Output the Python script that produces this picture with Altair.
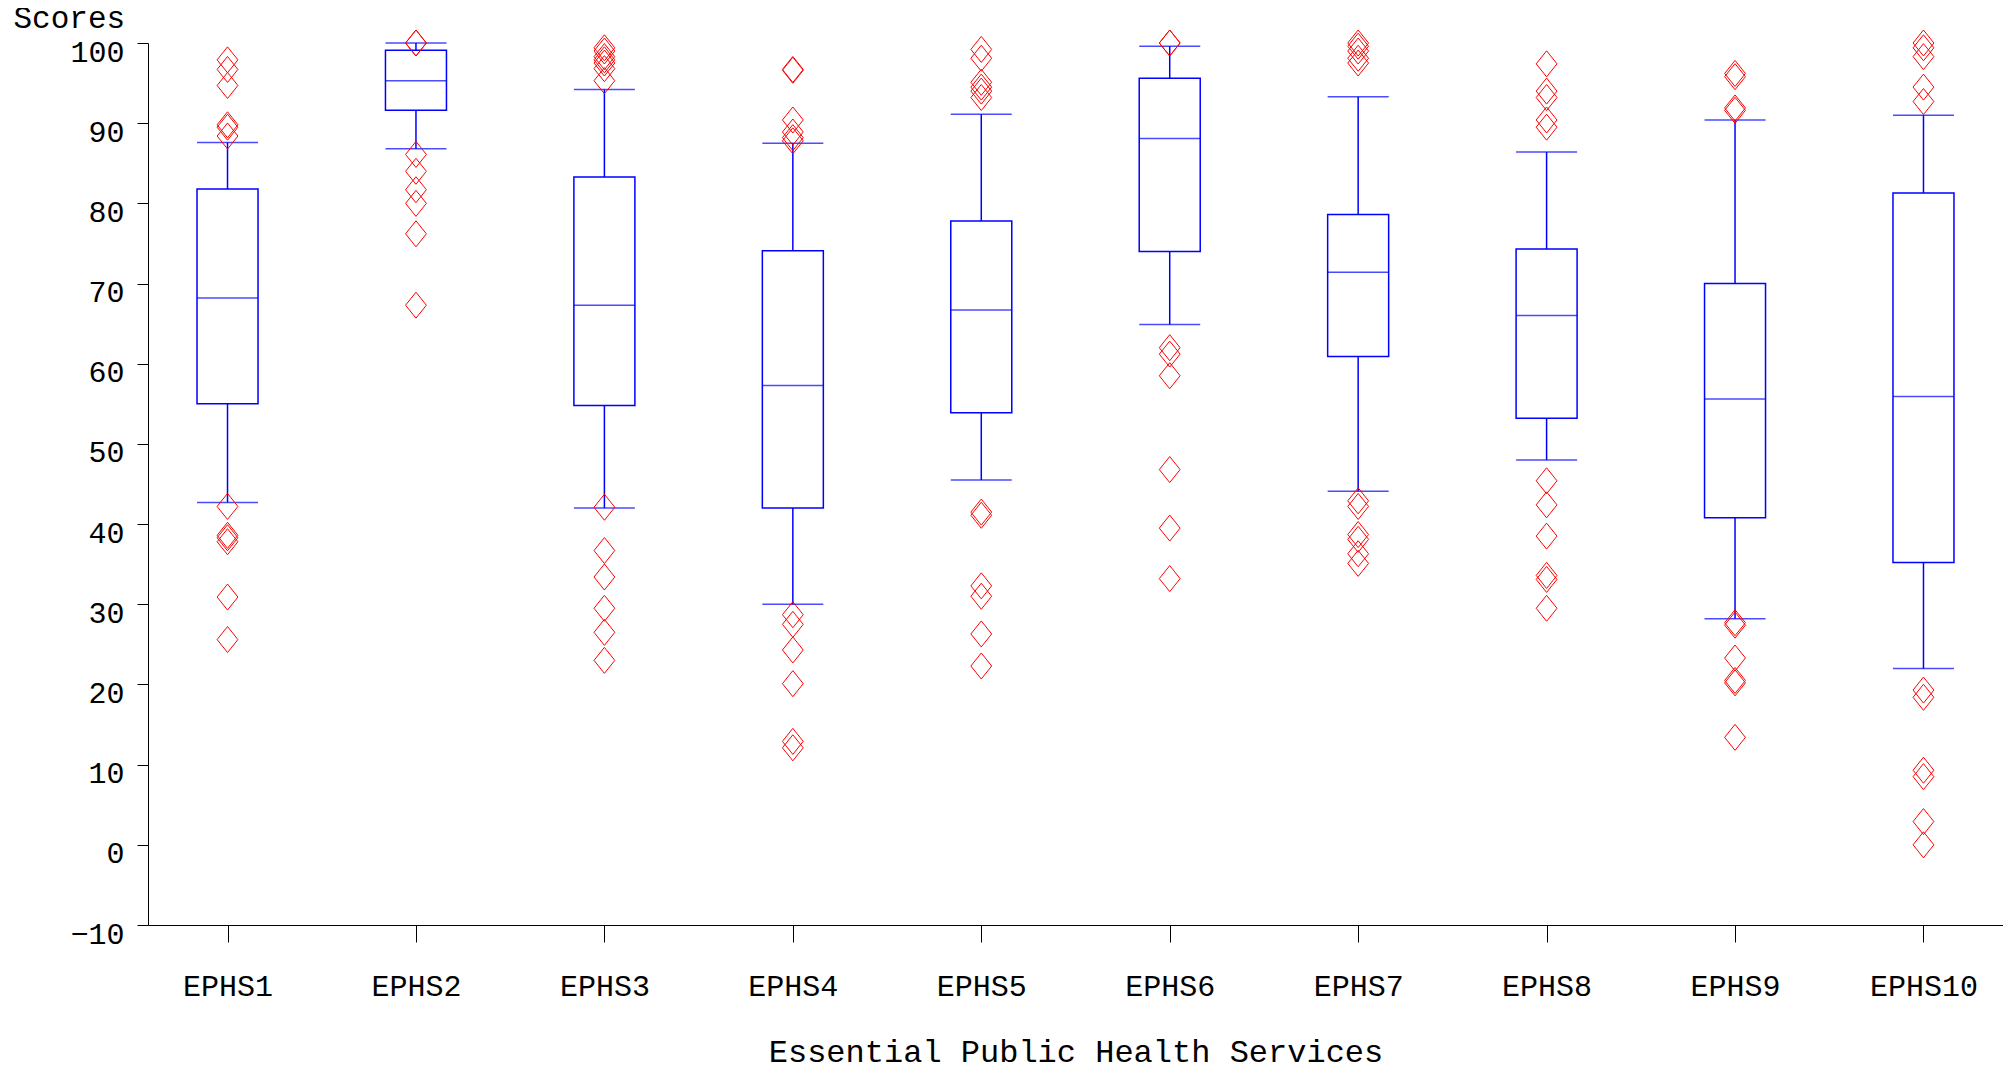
import altair as alt
import pandas as pd

categories = ["EPHS1", "EPHS2", "EPHS3", "EPHS4", "EPHS5",
              "EPHS6", "EPHS7", "EPHS8", "EPHS9", "EPHS10"]
lower_whisker = [42.7, 86.8, 42.0, 30.0, 45.5, 64.9, 44.1, 48.0, 28.2, 22.0]
q1 = [55.0, 91.6, 54.8, 42.0, 53.9, 74.0, 60.9, 53.2, 40.8, 35.2]
median = [68.2, 95.3, 67.3, 57.3, 66.7, 88.1, 71.4, 66.0, 55.6, 55.9]
q3 = [81.8, 99.1, 83.3, 74.1, 77.8, 95.6, 78.6, 74.3, 70.0, 81.3]
upper_whisker = [87.6, 100.0, 94.2, 87.5, 91.1, 99.6, 93.3, 86.4, 90.4, 91.0]

out_ephs1 = [97.9, 96.7, 94.7, 89.8, 89.5, 88.4, 42.2, 38.6, 38.3, 37.8, 30.9, 25.6]
out_ephs2 = [100.0, 100.0, 86.1, 84.0, 81.7, 80.0, 76.2, 67.3]
out_ephs3 = [99.4, 99.0, 98.3, 97.9, 97.5, 96.8, 95.3, 42.1, 36.7, 33.4, 29.5, 26.5, 23.0]
out_ephs4 = [96.7, 96.6, 90.4, 88.9, 88.2, 87.8, 28.7, 27.5, 24.3, 20.1, 12.9, 12.1]
out_ephs5 = [99.2, 98.1, 95.1, 94.5, 94.0, 93.2, 41.5, 41.1, 32.3, 31.0, 26.3, 22.3]
out_ephs6 = [100.0, 100.0, 62.0, 61.2, 58.5, 46.8, 39.5, 33.2]
out_ephs7 = [100.0, 99.6, 99.0, 98.1, 97.5, 42.9, 42.2, 38.7, 38.1, 36.3, 35.1]
out_ephs8 = [97.4, 94.0, 93.2, 90.4, 89.5, 45.4, 42.4, 38.5, 33.6, 33.1, 29.5]
out_ephs9 = [96.2, 95.8, 91.9, 91.6, 27.7, 27.4, 23.3, 20.5, 20.2, 13.4]
out_ephs10 = [100.0, 99.4, 98.3, 94.5, 92.7, 19.3, 18.4, 9.3, 8.5, 2.9, 0.0]

y_ticks = [-10, 0, 10, 20, 30, 40, 50, 60, 70, 80, 90, 100]

outlier_lists = [out_ephs1, out_ephs2, out_ephs3, out_ephs4, out_ephs5,
                 out_ephs6, out_ephs7, out_ephs8, out_ephs9, out_ephs10]

stats = pd.DataFrame({
    "cat": categories, "lw": lower_whisker, "q1": q1,
    "med": median, "q3": q3, "uw": upper_whisker,
})
out_df = pd.DataFrame(
    [{"cat": c, "v": v} for c, vals in zip(categories, outlier_lists) for v in vals]
)

FONT = "Liberation Mono"
BLUE = "#0000FF"
RED = "#FF0000"
BOXW = 61
W = 1855
H = 882

x_enc = alt.X(
    "cat:N",
    sort=categories,
    scale=alt.Scale(type="point", domain=categories, padding=0.422),
    title="Essential Public Health Services",
    axis=alt.Axis(
        labelFont=FONT, labelFontSize=30, labelColor="black",
        labelAngle=0, labelBaseline="alphabetic", labelPadding=53,
        tickSize=17, tickColor="black", tickWidth=1,
        domainColor="black", domainWidth=1,
        titleFont=FONT, titleFontSize=32, titleFontWeight="normal",
        titleColor="black", titleBaseline="alphabetic",
        titleX=W / 2, titleY=136, titleAlign="center",
        grid=False,
    ),
)

y_scale = alt.Scale(domain=[-10, 100], nice=False, zero=False)
y_axis = alt.Axis(
    values=y_ticks,
    labelFont=FONT, labelFontSize=30, labelColor="black",
    labelBaseline="alphabetic", labelOffset=18, labelPadding=13,
    tickSize=11, tickColor="black", tickWidth=1,
    domainColor="black", domainWidth=1,
    titleFont=FONT, titleFontSize=31, titleFontWeight="normal",
    titleColor="black", titleAngle=0, titleAlign="left",
    titleBaseline="alphabetic", titleX=-135, titleY=-15.5,
    grid=False,
)


def y(field):
    return alt.Y(f"{field}:Q", scale=y_scale, axis=y_axis, title="Scores")


base = alt.Chart(stats)

whisker = base.mark_rule(color=BLUE, strokeWidth=1.5).encode(
    x=x_enc, y=y("lw"), y2="uw:Q")
box = base.mark_bar(size=BOXW, fill="white", stroke=BLUE, strokeWidth=1.5).encode(
    x=x_enc, y=y("q1"), y2="q3:Q")
med = base.mark_tick(size=BOXW, thickness=1.5, color=BLUE).encode(
    x=x_enc, y=y("med"))
cap_lo = base.mark_tick(size=BOXW, thickness=1.5, color=BLUE).encode(
    x=x_enc, y=y("lw"))
cap_hi = base.mark_tick(size=BOXW, thickness=1.5, color=BLUE).encode(
    x=x_enc, y=y("uw"))
pts = alt.Chart(out_df).mark_point(
    shape="M0,-1L0.8,0L0,1L-0.8,0Z", size=676, filled=False,
    color=RED, strokeWidth=1, opacity=1,
).encode(x=x_enc, y=y("v"))

chart = alt.layer(whisker, box, med, cap_lo, cap_hi, pts).properties(
    width=W, height=H,
    autosize=alt.AutoSizeParams(type="none"),
    padding={"left": 140, "top": 35, "right": 0, "bottom": 137},
).configure_view(strokeWidth=0)

chart.save("out.html", embed_options={"renderer": "svg", "actions": False})
